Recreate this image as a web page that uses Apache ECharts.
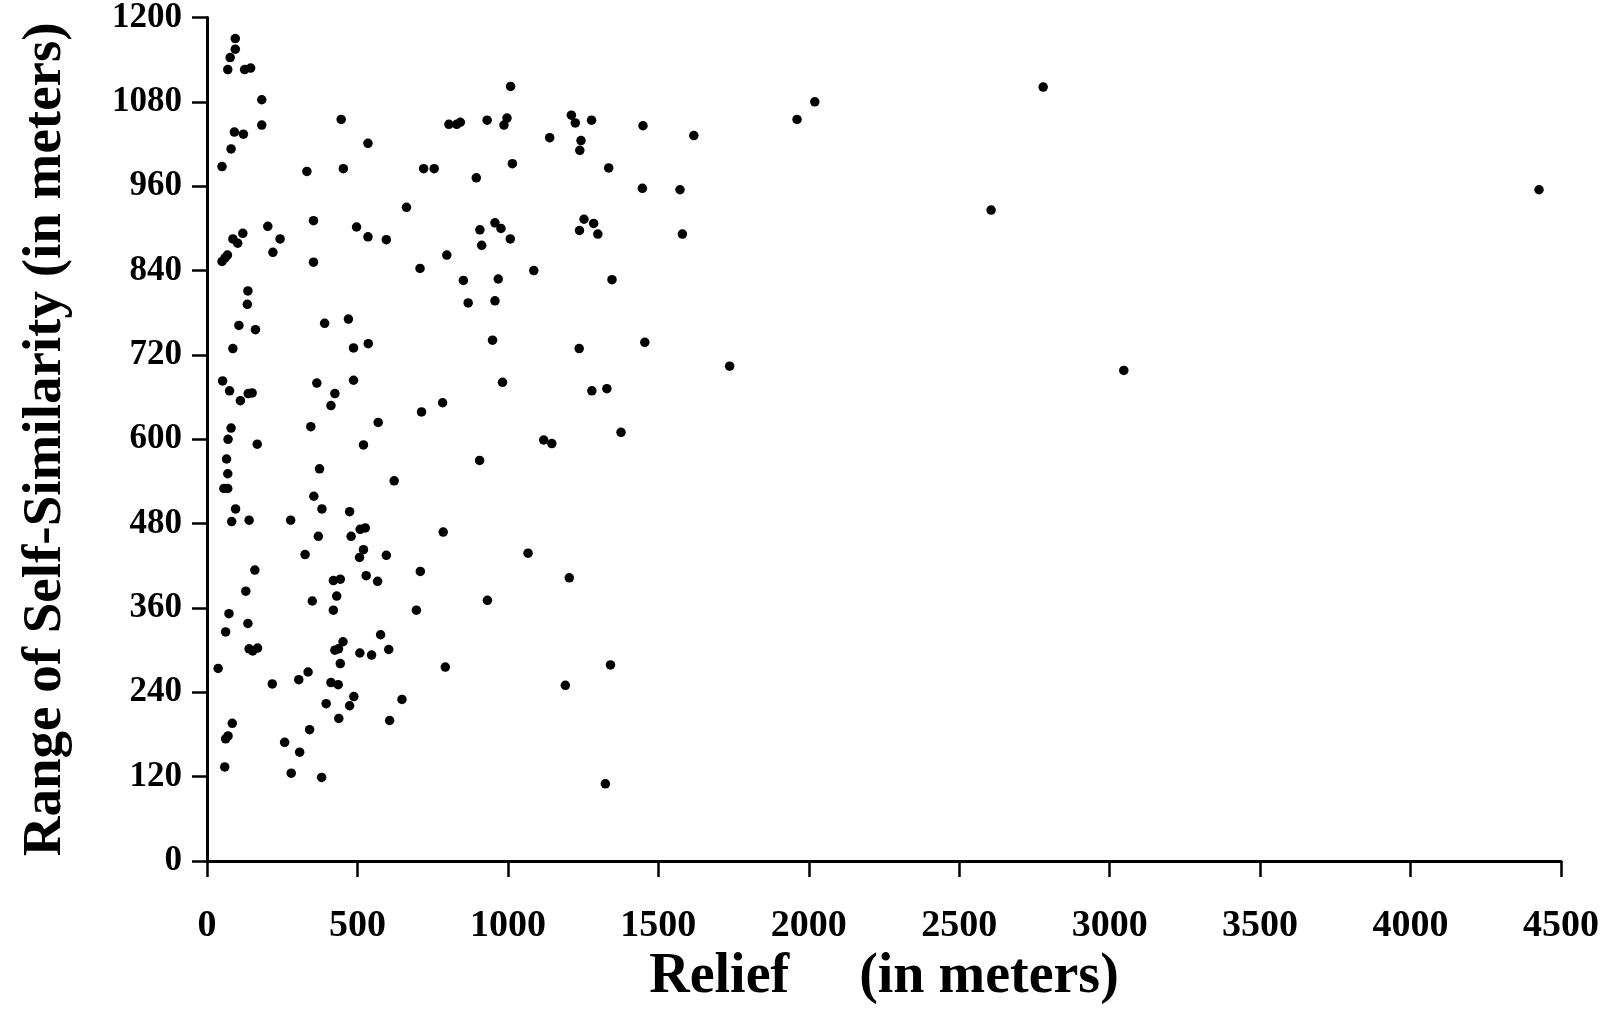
<!DOCTYPE html>
<html>
<head>
<meta charset="utf-8">
<script src="https://cdn.jsdelivr.net/npm/echarts@6/dist/echarts.min.js"></script>
<style>
html,body{margin:0;padding:0;background:#fff}
#chart{width:1611px;height:1011px}
</style>
</head>
<body>
<div id="chart"></div>
<script>
// Relief of each sampled profile (m)
const reliefMeters = [
  94,94,77,69,125,145,182,182,91,121,80,50,446,535,332,453,720,755,663,354,
  202,497,535,596,243,219,86,102,119,50,60,68,354,136,708,
  1009,804,830,842,931,987,997,1211,1224,1278,1449,1139,1243,1239,1015,895,1335,1447,957,977,
  907,913,1008,1253,1285,1238,1299,797,852,968,1086,1346,
  2020,1961,1618,1572,1580,
  134,106,161,86,52,75,111,137,150,80,70,167,65,69,56,69,95,82,140,278,
  159,391,470,487,536,365,487,425,412,713,345,569,520,374,622,355,382,474,370,479,
  509,526,326,520,507,596,709,443,529,567,420,
  868,957,949,1237,1455,982,1279,1329,783,1119,1146,1376,906,785,1067,1204,
  1737,
  129,350,431,420,696,73,136,62,140,152,168,37,452,437,425,577,604,508,547,443,
  217,305,336,412,436,488,474,396,648,438,607,84,62,70,341,258,308,59,280,381,
  932,792,1341,1191,1324,
  2779,4427,2606,3047
];

// Range of self-similarity for the same profiles (m)
const selfSimilarityMeters = [
  1170,1155,1143,1126,1126,1128,1083,1047,1037,1034,1013,988,1055,1021,981,985,985,985,930,911,
  903,902,888,884,885,866,885,879,893,853,858,862,852,811,843,
  1102,1048,1048,1051,1054,1047,1057,1061,1050,1054,1046,1029,1025,1011,992,972,986,957,908,900,
  898,876,885,913,907,897,892,862,826,828,840,827,
  1080,1055,1032,955,892,
  792,762,756,729,683,669,655,665,666,616,600,593,572,551,530,530,501,483,485,485,
  414,765,771,730,736,680,684,665,648,639,618,624,592,558,541,519,501,497,462,462,
  472,474,436,443,432,435,412,401,406,398,399,
  794,797,741,729,738,681,669,672,652,599,594,610,570,468,438,403,
  704,
  384,370,377,357,357,352,338,326,302,299,303,274,312,302,300,322,301,296,293,281,
  252,258,269,254,251,234,221,224,230,203,200,196,174,178,187,169,155,134,125,119,
  371,276,279,250,110,
  1101,955,926,698
];

// Axis extents and tick spacing
const reliefAxis = { min: 0, max: 4500, step: 500 };
const rangeAxis = { min: 0, max: 1200, step: 120 };

const points = reliefMeters.map((r, i) => [r, selfSimilarityMeters[i]]);

const serif = '"Liberation Serif", "Times New Roman", serif';
const plainNumber = v => String(v);
const chart = echarts.init(document.getElementById('chart'), null, { renderer: 'canvas' });

chart.setOption({
  animation: false,
  backgroundColor: '#ffffff',
  grid: { left: 207, right: 50, top: 16, bottom: 146, containLabel: false },
  xAxis: {
    type: 'value',
    min: reliefAxis.min, max: reliefAxis.max, interval: reliefAxis.step,
    name: 'Relief     (in meters)',
    nameLocation: 'middle',
    nameGap: 88,
    nameTextStyle: { fontFamily: serif, fontWeight: 'bold', fontSize: 56, color: '#000' },
    axisLine: { show: true, onZero: false, lineStyle: { color: '#000', width: 3 } },
    axisTick: { show: true, inside: false, length: 16, lineStyle: { color: '#000', width: 2.5 } },
    axisLabel: { margin: 46, formatter: plainNumber, fontFamily: serif, fontWeight: 'bold', fontSize: 38, color: '#000' },
    splitLine: { show: false }
  },
  yAxis: {
    type: 'value',
    min: rangeAxis.min, max: rangeAxis.max, interval: rangeAxis.step,
    name: 'Range of Self-Similarity (in meters)',
    nameLocation: 'middle',
    nameRotate: 90,
    nameGap: 134,
    nameTextStyle: { fontFamily: serif, fontWeight: 'bold', fontSize: 55, color: '#000' },
    axisLine: { show: true, onZero: false, lineStyle: { color: '#000', width: 3 } },
    axisTick: { show: true, inside: false, length: 15, lineStyle: { color: '#000', width: 2.5 } },
    axisLabel: { margin: 25, formatter: plainNumber, fontFamily: serif, fontWeight: 'bold', fontSize: 35, color: '#000' },
    splitLine: { show: false }
  },
  series: [{
    type: 'scatter',
    data: points,
    symbol: 'circle',
    symbolSize: 9.5,
    itemStyle: { color: '#000', opacity: 1 },
    emphasis: { disabled: true }
  }]
});
</script>
</body>
</html>
